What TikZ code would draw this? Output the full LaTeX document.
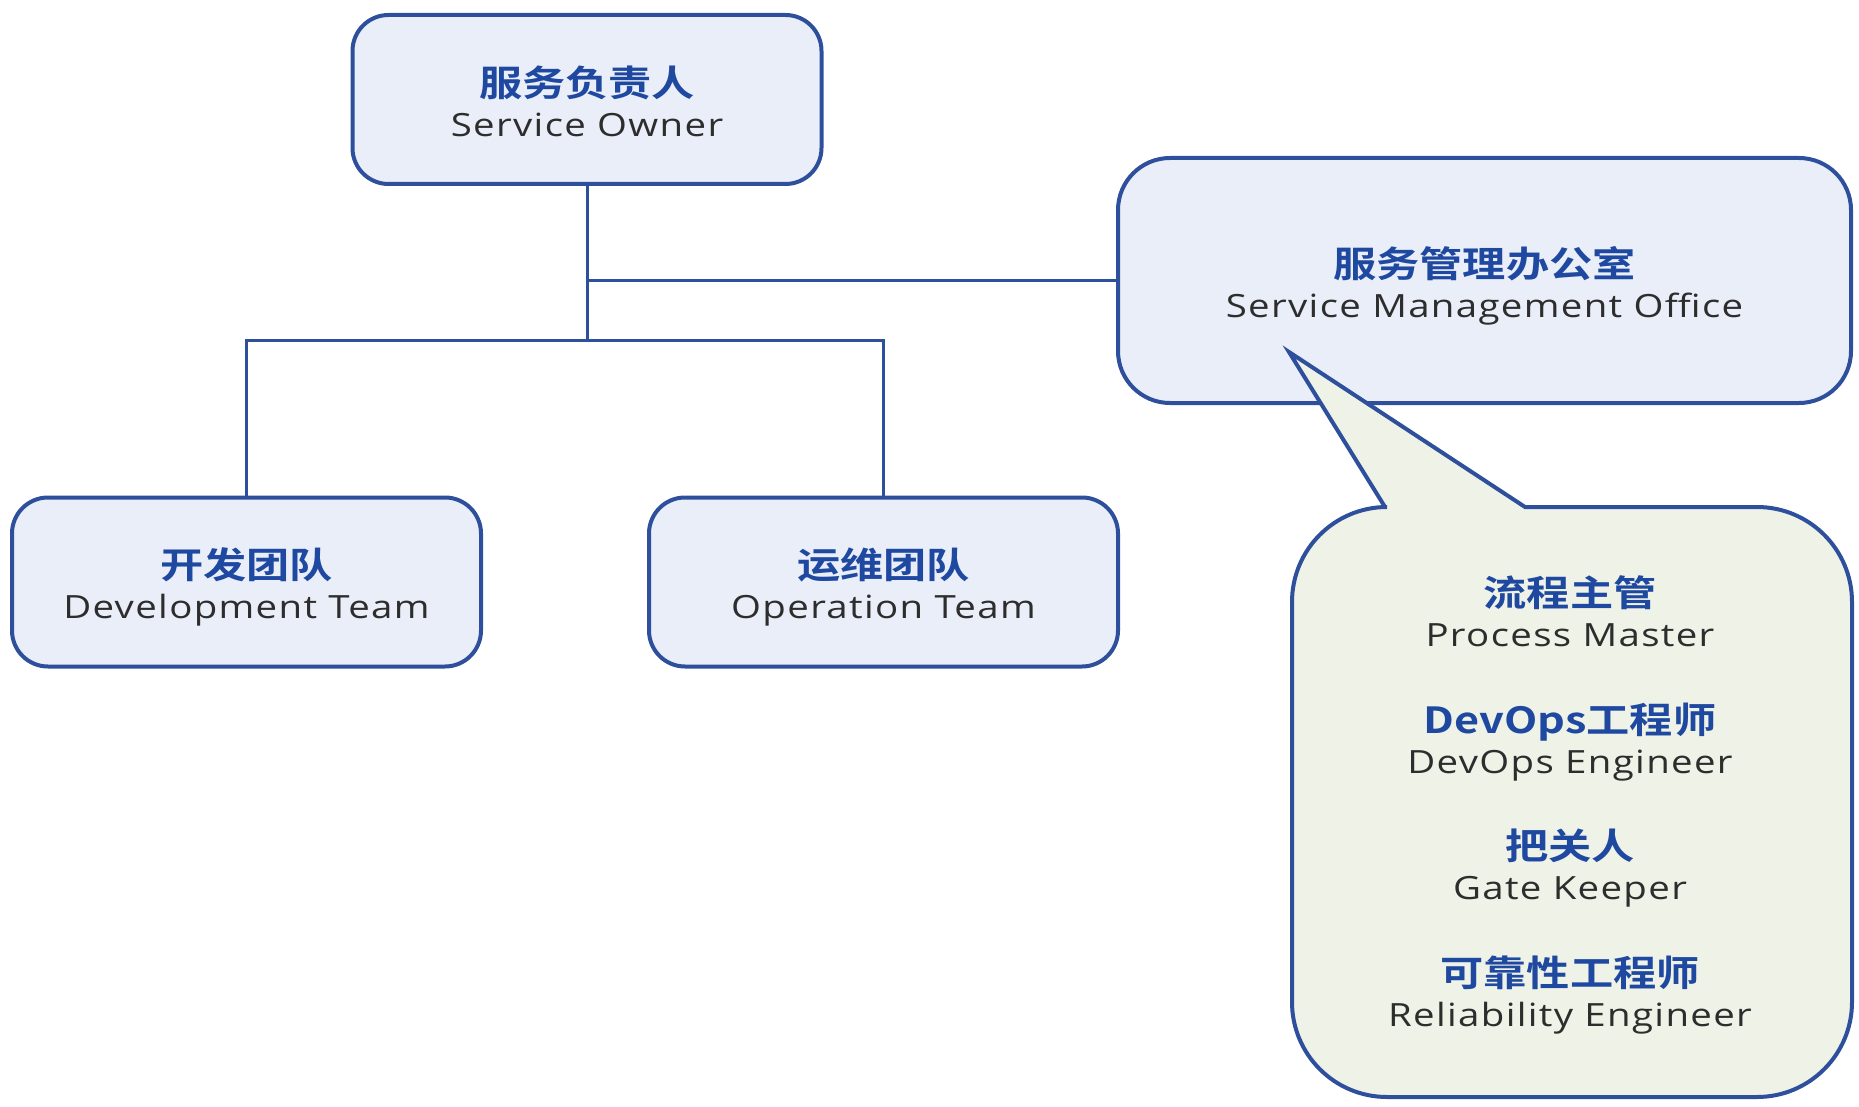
\documentclass[tikz,border=0pt]{standalone}
\usepackage{fontspec}
\usepackage{graphicx}
\setmainfont{Open Sans}
\newfontfamily\enf{Open Sans}[LetterSpace=3.5]
\newfontfamily\cjkb{Noto Sans CJK SC Bold}
\definecolor{bord}{RGB}{46,80,156}
\definecolor{boxfill}{RGB}{233,238,248}
\definecolor{callfill}{RGB}{239,242,231}
\definecolor{zhblue}{RGB}{31,72,160}
\definecolor{entext}{RGB}{45,45,45}
\newcommand\hs[1]{\scalebox{1.2}[1]{#1}}
\newcommand\zh[1]{\hs{\color{zhblue}\cjkb\fontsize{18}{20}\selectfont #1}}
\newcommand\en[1]{\hs{\color{entext}\enf\fontsize{16}{20}\selectfont #1}}
\tikzset{
  box/.style={draw=bord, fill=boxfill, line width=2pt, rounded corners=18pt,
    minimum width=234.5pt, minimum height=84.5pt, inner sep=0pt, outer sep=0pt},
  boxtext/.style={align=center, inner sep=0pt, yshift=-2.4pt,
    font=\fontsize{16}{20}\selectfont},
  conn/.style={draw=bord, line width=1.5pt},
  calltext/.style={align=center, inner sep=0pt, font=\fontsize{16}{20}\selectfont}
}
\begin{document}
\begin{tikzpicture}[x=0.5pt,y=-0.5pt]
\useasboundingbox (0,0) rectangle (1859,1107);
% boxes
\node[box] (so) at (587,99.5) {};
\node[boxtext, yshift=1.6pt] (sot) at (so) {\zh{服务负责人}\\\en{Service Owner}};
\node[box, minimum width=366.5pt, minimum height=122.5pt, rounded corners=26pt] (smo) at (1484.5,280.5) {};
\node[boxtext] (smot) at (smo) {\zh{服务管理办公室}\\\en{Service Management Office}};
\node[box] (dev) at (246.5,582) {};
\node[boxtext] (devt) at (dev) {\zh{开发团队}\\\en{Development Team}};
\node[box] (op) at (883.5,582) {};
\node[boxtext] (opt) at (op) {\zh{运维团队}\\\en{Operation Team}};
% connectors
\coordinate (j) at (587,341);
\draw[conn] (so.south) -- (so.south |- j);
\draw[conn] (so.south |- smo.west) -- (smo.west);
\draw[conn] (dev.north) |- (j) -| (op.north);
% callout
\coordinate (tip) at (1289,352);
\filldraw[draw=bord, fill=callfill, line width=2pt, line join=miter]
  (1385,507) -- (tip) -- (1525,507) -- (1757,507)
  .. controls (1809.5,507) and (1852,549.5) .. (1852,602)
  -- (1852,1002) .. controls (1852,1054.5) and (1809.5,1097) .. (1757,1097)
  -- (1387,1097) .. controls (1334.5,1097) and (1292,1054.5) .. (1292,1002)
  -- (1292,602) .. controls (1292,549.5) and (1334.5,507) .. (1387,507) -- cycle;
\node[calltext] (roles) at (1570,805)
  {\zh{流程主管}\\\en{Process Master}\\[23.4pt]
   \zh{DevOps工程师}\\\en{DevOps Engineer}\\[23.4pt]
   \zh{把关人}\\\en{Gate Keeper}\\[23.4pt]
   \zh{可靠性工程师}\\\en{Reliability Engineer}};
\end{tikzpicture}
\end{document}
